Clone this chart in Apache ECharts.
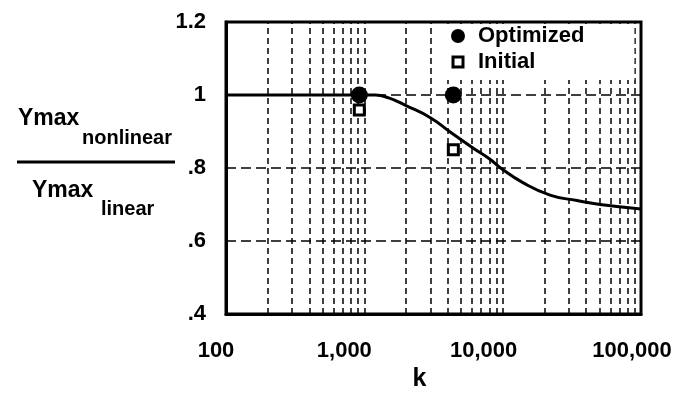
<!DOCTYPE html>
<html>
<head>
<meta charset="utf-8">
<script src="https://cdn.jsdelivr.net/npm/echarts@6/dist/echarts.min.js"></script>
<style>
  html, body { margin: 0; padding: 0; background: #fff; }
  #chart { width: 689px; height: 397px; }
</style>
</head>
<body>
<div id="chart"></div>
<script>
// Response ratio Ymax(nonlinear)/Ymax(linear) versus stiffness k
const kCurve = [100, 1200, 1500, 2000, 3000, 4200, 6100, 8100, 9600, 14000, 22000, 34500, 50600, 100000];
const ratioCurve = [1.0, 1.0, 0.992, 0.971, 0.938, 0.898, 0.855, 0.824, 0.801, 0.760, 0.726, 0.711, 0.700, 0.688];

const kOptimized = [920, 4400];
const ratioOptimized = [1.0, 1.0];

const kInitial = [920, 4400];
const ratioInitial = [0.959, 0.85];

// x tick labels
const xTickValues = [100, 1000, 10000, 100000];
const xTickText = ['100', '1,000', '10,000', '100,000'];

// log grid lines (2..9 of each decade plus decade marks)
const xGridValues = [200, 300, 400, 500, 600, 700, 800, 900, 1000,
                     2000, 3000, 4000, 5000, 6000, 7000, 8000, 9000, 10000,
                     20000, 30000, 40000, 50000, 60000, 70000, 80000, 90000];

const FONT = '"Liberation Sans", Arial, Helvetica, sans-serif';
const labelShift = [10, 20, 19, 9];

const rich = {};
xTickValues.forEach((v, i) => {
  rich['t' + i] = { fontSize: 22, fontWeight: 'bold', fontFamily: FONT, color: '#000', padding: [0, labelShift[i] * 2, 0, 0] };
});

const chart = echarts.init(document.getElementById('chart'), null, { renderer: 'canvas' });

const option = {
  backgroundColor: '#fff',
  animation: false,
  grid: {
    left: 226, right: 48, top: 22, bottom: 79,
    show: true, borderColor: '#000', borderWidth: 3, backgroundColor: 'transparent'
  },
  xAxis: {
    type: 'log', logBase: 10, min: 100, max: 100000,
    name: 'k', nameLocation: 'middle', nameGap: 50,
    nameTextStyle: { fontSize: 25, fontWeight: 'bold', fontFamily: FONT, color: '#000', padding: [0, 28, 0, 0] },
    axisLine: { show: true, lineStyle: { color: '#000', width: 3 } },
    axisTick: { show: false },
    splitLine: { show: false },
    axisLabel: {
      margin: 26,
      formatter: function (v) {
        const i = xTickValues.indexOf(Math.round(v));
        return i < 0 ? '' : '{t' + i + '|' + xTickText[i] + '}';
      },
      rich: rich
    }
  },
  yAxis: {
    type: 'value', min: 0.4, max: 1.2, interval: 0.2,
    axisLine: { show: true, lineStyle: { color: '#000', width: 3 } },
    axisTick: { show: false },
    splitLine: { show: true, lineStyle: { color: '#000', width: 1.5, type: [10, 5] } },
    axisLabel: {
      margin: 20, fontSize: 22, fontWeight: 'bold', fontFamily: FONT, color: '#000',
      formatter: function (v) {
        const s = String(+v.toFixed(1));
        return s.charAt(0) === '0' ? s.slice(1) : s;
      }
    }
  },
  legend: {
    orient: 'vertical', left: 445, top: 24, z: 20,
    padding: [0, 50, 6, 6], itemGap: 2,
    backgroundColor: '#fff',
    itemWidth: 10, itemHeight: 10,
    textStyle: { fontSize: 22, fontWeight: 'bold', fontFamily: FONT, color: '#000', lineHeight: 24, padding: [0, 0, 0, 10] },
    data: [
      { name: 'Optimized', icon: 'circle', itemStyle: { color: '#000', borderColor: '#000', borderWidth: 4, opacity: 1 } },
      { name: 'Initial', icon: 'rect', itemStyle: { color: '#fff', borderColor: '#000', borderWidth: 3, opacity: 1 } }
    ]
  },
  series: [
    {
      name: 'grid',
      type: 'line', data: [], silent: true, z: 1,
      markLine: {
        silent: true, symbol: 'none', label: { show: false }, z: 1,
        lineStyle: { color: '#000', width: 1.5, type: [6, 4] },
        data: xGridValues.map(v => ({ xAxis: v }))
      }
    },
    {
      name: 'Ratio',
      type: 'line', smooth: 0.5,
      symbol: 'none', z: 3,
      lineStyle: { color: '#000', width: 3 },
      data: kCurve.map((k, i) => [k, ratioCurve[i]])
    },
    {
      name: 'Optimized',
      type: 'scatter', symbol: 'circle', symbolSize: 17, z: 4,
      itemStyle: { color: '#000', opacity: 1 },
      data: kOptimized.map((k, i) => [k, ratioOptimized[i]])
    },
    {
      name: 'Initial',
      type: 'scatter', symbol: 'rect', symbolSize: 10, z: 4,
      itemStyle: { color: '#fff', borderColor: '#000', borderWidth: 3, opacity: 1 },
      data: kInitial.map((k, i) => [k, ratioInitial[i]])
    }
  ],
  graphic: [
    { type: 'text', left: 18, top: 107, style: { text: 'Ymax', font: 'bold 23px ' + FONT, fill: '#000' } },
    { type: 'text', left: 82, top: 128, style: { text: 'nonlinear', font: 'bold 20px ' + FONT, fill: '#000' } },
    { type: 'line', shape: { x1: 17, y1: 162, x2: 175, y2: 162 }, style: { stroke: '#000', lineWidth: 3 } },
    { type: 'text', left: 32, top: 179, style: { text: 'Ymax', font: 'bold 23px ' + FONT, fill: '#000' } },
    { type: 'text', left: 101, top: 199, style: { text: 'linear', font: 'bold 20px ' + FONT, fill: '#000' } }
  ]
};

chart.setOption(option);
</script>
</body>
</html>
